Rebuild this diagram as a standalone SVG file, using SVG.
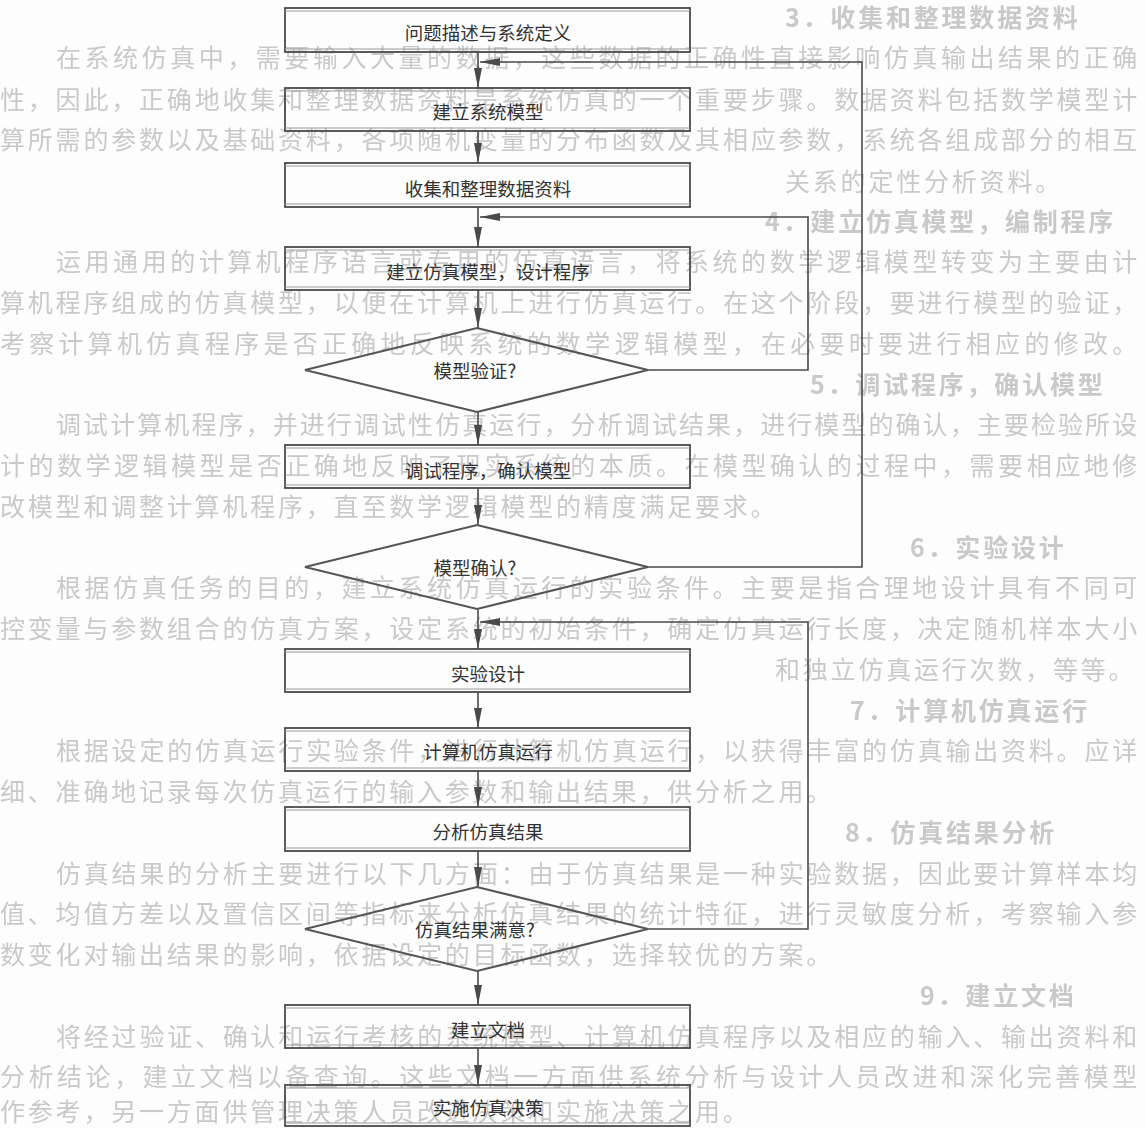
<svg xmlns="http://www.w3.org/2000/svg" width="1145" height="1128" viewBox="0 0 1145 1128">
  <defs>
    <style>
      .bg { font-family: "Noto Sans CJK SC", "Noto Sans", sans-serif; font-size: 25px; fill: #c9c9c9; letter-spacing: 2.8px; }
      .bgh { font-weight: 700; }
      .box { fill: none; stroke: #4a4a4a; stroke-width: 1.8; }
      .inner { stroke: #9a9a9a; stroke-width: 1; }
      .dia { fill: none; stroke: #555555; stroke-width: 2; }
      .lbl { font-family: "Noto Sans CJK SC", "Noto Sans", sans-serif; font-size: 18.5px; fill: #333333; text-anchor: middle; dominant-baseline: central; }
      .wire { fill: none; stroke: #4a4a4a; stroke-width: 1.6; }
    </style>
    <filter id="soft" x="-2%" y="-20%" width="104%" height="140%">
      <feGaussianBlur stdDeviation="0.6"/>
    </filter>
    <marker id="head" viewBox="0 0 20 8" refX="20" refY="4" markerWidth="20" markerHeight="8" markerUnits="userSpaceOnUse" orient="auto">
      <path d="M0,0 L20,4 L0,8 Z" fill="#4a4a4a"/>
    </marker>
  </defs>

  <rect x="0" y="0" width="1145" height="1128" fill="#fdfdfd"/>

  <!-- faint printed page behind the chart -->
  <g id="page-text" filter="url(#soft)">
    <text class="bg bgh" x="785" y="27">3．收集和整理数据资料</text>
    <text class="bg" x="56" y="67" textLength="1084">在系统仿真中，需要输入大量的数据，这些数据的正确性直接影响仿真输出结果的正确</text>
    <text class="bg" x="0" y="109" textLength="1140">性，因此，正确地收集和整理数据资料是系统仿真的一个重要步骤。数据资料包括数学模型计</text>
    <text class="bg" x="0" y="149" textLength="1140">算所需的参数以及基础资料，各项随机变量的分布函数及其相应参数，系统各组成部分的相互</text>
    <text class="bg" x="785" y="191">关系的定性分析资料。</text>
    <text class="bg bgh" x="765" y="231">4．建立仿真模型，编制程序</text>
    <text class="bg" x="56" y="271" textLength="1084">运用通用的计算机程序语言或专用的仿真语言，将系统的数学逻辑模型转变为主要由计</text>
    <text class="bg" x="0" y="312" textLength="1140">算机程序组成的仿真模型，以便在计算机上进行仿真运行。在这个阶段，要进行模型的验证，</text>
    <text class="bg" x="0" y="353" textLength="1140">考察计算机仿真程序是否正确地反映系统的数学逻辑模型，在必要时要进行相应的修改。</text>
    <text class="bg bgh" x="810" y="394">5．调试程序，确认模型</text>
    <text class="bg" x="56" y="434" textLength="1084">调试计算机程序，并进行调试性仿真运行，分析调试结果，进行模型的确认，主要检验所设</text>
    <text class="bg" x="0" y="475" textLength="1140">计的数学逻辑模型是否正确地反映了现实系统的本质。在模型确认的过程中，需要相应地修</text>
    <text class="bg" x="0" y="516">改模型和调整计算机程序，直至数学逻辑模型的精度满足要求。</text>
    <text class="bg bgh" x="910" y="557">6．实验设计</text>
    <text class="bg" x="56" y="597" textLength="1084">根据仿真任务的目的，建立系统仿真运行的实验条件。主要是指合理地设计具有不同可</text>
    <text class="bg" x="0" y="638" textLength="1140">控变量与参数组合的仿真方案，设定系统的初始条件，确定仿真运行长度，决定随机样本大小</text>
    <text class="bg" x="775" y="679">和独立仿真运行次数，等等。</text>
    <text class="bg bgh" x="850" y="720">7．计算机仿真运行</text>
    <text class="bg" x="56" y="760" textLength="1084">根据设定的仿真运行实验条件，进行计算机仿真运行，以获得丰富的仿真输出资料。应详</text>
    <text class="bg" x="0" y="801">细、准确地记录每次仿真运行的输入参数和输出结果，供分析之用。</text>
    <text class="bg bgh" x="845" y="842">8．仿真结果分析</text>
    <text class="bg" x="56" y="883" textLength="1084">仿真结果的分析主要进行以下几方面：由于仿真结果是一种实验数据，因此要计算样本均</text>
    <text class="bg" x="0" y="923" textLength="1140">值、均值方差以及置信区间等指标来分析仿真结果的统计特征，进行灵敏度分析，考察输入参</text>
    <text class="bg" x="0" y="964">数变化对输出结果的影响，依据设定的目标函数，选择较优的方案。</text>
    <text class="bg bgh" x="920" y="1005">9．建立文档</text>
    <text class="bg" x="56" y="1046" textLength="1084">将经过验证、确认和运行考核的系统模型、计算机仿真程序以及相应的输入、输出资料和</text>
    <text class="bg" x="0" y="1086" textLength="1140">分析结论，建立文档以备查询。这些文档一方面供系统分析与设计人员改进和深化完善模型</text>
    <text class="bg" x="0" y="1121">作参考，另一方面供管理决策人员改进决策和实施决策之用。</text>
  </g>

  <!-- connectors -->
  <g id="connectors">
    <line class="wire" x1="478" y1="52" x2="478" y2="88" marker-end="url(#head)"/>
    <line class="wire" x1="478" y1="131" x2="478" y2="163" marker-end="url(#head)"/>
    <line class="wire" x1="478" y1="207" x2="478" y2="247" marker-end="url(#head)"/>
    <line class="wire" x1="478" y1="290" x2="478" y2="328" marker-end="url(#head)"/>
    <line class="wire" x1="478" y1="412" x2="478" y2="445" marker-end="url(#head)"/>
    <line class="wire" x1="478" y1="488" x2="478" y2="525" marker-end="url(#head)"/>
    <line class="wire" x1="478" y1="609" x2="478" y2="649" marker-end="url(#head)"/>
    <line class="wire" x1="478" y1="692" x2="478" y2="728" marker-end="url(#head)"/>
    <line class="wire" x1="478" y1="771" x2="478" y2="807" marker-end="url(#head)"/>
    <line class="wire" x1="478" y1="851" x2="478" y2="887" marker-end="url(#head)"/>
    <line class="wire" x1="478" y1="971" x2="478" y2="1005" marker-end="url(#head)"/>
    <line class="wire" x1="478" y1="1048" x2="478" y2="1085" marker-end="url(#head)"/>
    <!-- loop back from 模型确认? -->
    <polyline class="wire" points="648,567 862,567 862,62 480,62" marker-end="url(#head)"/>
    <!-- loop back from 模型验证? -->
    <polyline class="wire" points="648,370 808,370 808,217 480,217" marker-end="url(#head)"/>
    <!-- loop back from 仿真结果满意? -->
    <polyline class="wire" points="648,929 808,929 808,622 480,622" marker-end="url(#head)"/>
  </g>

  <g id="n1">
    <rect class="box" x="285" y="8" width="405" height="44"/>
    <line class="inner" x1="285" y1="11" x2="690" y2="11"/><line class="inner" x1="285" y1="49" x2="690" y2="49"/>
    <text class="lbl" x="488" y="32">问题描述与系统定义</text>
  </g>
  <g id="n2">
    <rect class="box" x="285" y="88" width="405" height="43"/>
    <line class="inner" x1="285" y1="91" x2="690" y2="91"/><line class="inner" x1="285" y1="128" x2="690" y2="128"/>
    <text class="lbl" x="488" y="111">建立系统模型</text>
  </g>
  <g id="n3">
    <rect class="box" x="285" y="163" width="405" height="44"/>
    <line class="inner" x1="285" y1="166" x2="690" y2="166"/><line class="inner" x1="285" y1="204" x2="690" y2="204"/>
    <text class="lbl" x="488" y="188">收集和整理数据资料</text>
  </g>
  <g id="n4">
    <rect class="box" x="285" y="247" width="405" height="43"/>
    <line class="inner" x1="285" y1="250" x2="690" y2="250"/><line class="inner" x1="285" y1="287" x2="690" y2="287"/>
    <text class="lbl" x="488" y="271">建立仿真模型，设计程序</text>
  </g>
  <g id="n5">
    <polygon class="dia" points="305,370 477,328 648,370 477,412"/>
    <text class="lbl" x="475" y="370">模型验证?</text>
  </g>
  <g id="n6">
    <rect class="box" x="285" y="445" width="405" height="43"/>
    <line class="inner" x1="285" y1="448" x2="690" y2="448"/><line class="inner" x1="285" y1="485" x2="690" y2="485"/>
    <text class="lbl" x="488" y="470">调试程序，确认模型</text>
  </g>
  <g id="n7">
    <polygon class="dia" points="305,567 477,525 648,567 477,609"/>
    <text class="lbl" x="475" y="567">模型确认?</text>
  </g>
  <g id="n8">
    <rect class="box" x="285" y="649" width="405" height="43"/>
    <line class="inner" x1="285" y1="652" x2="690" y2="652"/><line class="inner" x1="285" y1="689" x2="690" y2="689"/>
    <text class="lbl" x="488" y="673">实验设计</text>
  </g>
  <g id="n9">
    <rect class="box" x="285" y="728" width="405" height="43"/>
    <line class="inner" x1="285" y1="731" x2="690" y2="731"/><line class="inner" x1="285" y1="768" x2="690" y2="768"/>
    <text class="lbl" x="488" y="751">计算机仿真运行</text>
  </g>
  <g id="n10">
    <rect class="box" x="285" y="807" width="405" height="44"/>
    <line class="inner" x1="285" y1="810" x2="690" y2="810"/><line class="inner" x1="285" y1="848" x2="690" y2="848"/>
    <text class="lbl" x="488" y="831">分析仿真结果</text>
  </g>
  <g id="n11">
    <polygon class="dia" points="305,929 477,887 648,929 477,971"/>
    <text class="lbl" x="475" y="929">仿真结果满意?</text>
  </g>
  <g id="n12">
    <rect class="box" x="285" y="1005" width="405" height="43"/>
    <line class="inner" x1="285" y1="1008" x2="690" y2="1008"/><line class="inner" x1="285" y1="1045" x2="690" y2="1045"/>
    <text class="lbl" x="488" y="1029">建立文档</text>
  </g>
  <g id="n13">
    <rect class="box" x="285" y="1085" width="405" height="41"/>
    <line class="inner" x1="285" y1="1088" x2="690" y2="1088"/><line class="inner" x1="285" y1="1123" x2="690" y2="1123"/>
    <text class="lbl" x="488" y="1107">实施仿真决策</text>
  </g>
</svg>
